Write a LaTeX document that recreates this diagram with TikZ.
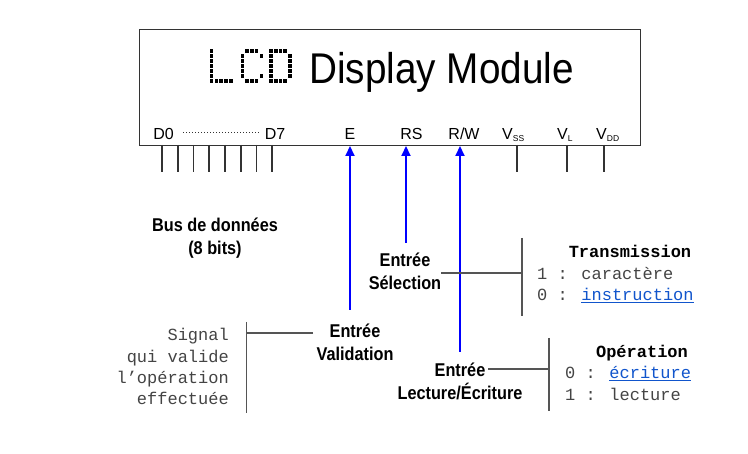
\documentclass[tikz,border=0pt]{standalone}
\usepackage{fontspec}
\setmainfont{Liberation Sans}
\newfontfamily\monof{Liberation Mono}
\usetikzlibrary{arrows.meta}
\definecolor{linkblue}{HTML}{1155CC}
\definecolor{txtgray}{HTML}{444444}
\definecolor{linegray}{HTML}{555555}
\definecolor{boxgray}{HTML}{333333}
\newcommand{\blab}[1]{\scalebox{0.88}[1]{\begin{tabular}[t]{@{}c@{}}#1\end{tabular}}}
\newcommand{\lnk}[1]{{\color{linkblue}\underline{#1}}}
\tikzset{
  pinlbl/.style={anchor=base, inner sep=0, font=\fontsize{16}{16}\selectfont},
  pinline/.style={draw=boxgray, line width=1.3pt},
  sig/.style={draw=blue, line width=2pt, -{Triangle[length=10pt,width=9pt]}},
  gline/.style={draw=linegray, line width=1.4pt},
  boldlbl/.style={anchor=base, inner sep=0, font=\fontsize{18.5}{23}\selectfont\bfseries},
  mono/.style={inner sep=0, font=\fontsize{17}{21.3}\selectfont\monof, text=txtgray},
  monohead/.style={inner sep=0, font=\fontsize{17}{21.3}\selectfont\monof\bfseries, text=black},
}
\begin{document}
\begin{tikzpicture}[x=1pt,y=-1pt]
\useasboundingbox (0,0) rectangle (748,454);
\fill[white] (0,0) rectangle (748,454);
% module box
\node[draw=boxgray, line width=1.5pt, minimum width=501pt, minimum height=116pt, anchor=north west, inner sep=0] (lcd) at (138.5,29) {};
% LCD dot matrix
\foreach \c/\r in {0/0,0/1,0/2,0/3,0/4,0/5,0/6,1/6,2/6,3/6,4/6}
  \fill[black] (211.5+\c*4.8-1.8,51+\r*5-1.8) rectangle ++(3.6,3.6);
\foreach \c/\r in {1/0,2/0,3/0,0/1,4/1,0/2,0/3,0/4,0/5,4/5,1/6,2/6,3/6}
  \fill[black] (242.5+\c*4.7-1.8,51+\r*5-1.8) rectangle ++(3.6,3.6);
\foreach \c/\r in {0/0,1/0,2/0,3/0,0/1,0/2,0/3,0/4,0/5,0/6,4/1,4/2,4/3,4/4,4/5,1/6,2/6,3/6}
  \fill[black] (271+\c*4.7-1.8,51+\r*5-1.8) rectangle ++(3.6,3.6);
\node[anchor=base west, inner sep=0, font=\fontsize{43}{43}\selectfont] (title) at (309,83.3) {\scalebox{0.9}[1]{Display Module}};
% pin labels
\node[pinlbl] (d0) at (163.5,139.3) {D0};
\node[pinlbl] (d7) at (275,139.3) {D7};
\coordinate (dotA) at (183,132);
\coordinate (dotB) at (260,132);
\draw[boxgray, line width=0.9pt, dash pattern=on 1pt off 2pt] (dotA) -- (dotB);
\node[pinlbl] (pe) at (350,139.3) {E};
\node[pinlbl] (prs) at (411.5,139.3) {RS};
\node[pinlbl] (prw) at (464,139.3) {R/W};
\node[pinlbl, anchor=base west] (pvss) at (502,139.3) {V\raisebox{-2.4pt}{\fontsize{8.5}{8.5}\selectfont SS}};
\node[pinlbl, anchor=base west] (pvl) at (557,139.3) {V\raisebox{-2.4pt}{\fontsize{8.5}{8.5}\selectfont L}};
\node[pinlbl, anchor=base west] (pvdd) at (596,139.3) {V\raisebox{-2.4pt}{\fontsize{8.5}{8.5}\selectfont DD}};
% data pins
\foreach \x [count=\i] in {162,178,193.5,209,225,241,256.5,272}
  \draw[pinline] (\x,145) coordinate (dp\i) -- ++(0,27);
\draw[pinline] (517,145) coordinate (vss) -- ++(0,27);
\draw[pinline] (567,145) coordinate (vl) -- ++(0,27);
\draw[pinline] (604,145) coordinate (vdd) -- ++(0,27);
% signal arrows
\coordinate (etip) at (350,146);
\coordinate (rstip) at (406,146);
\coordinate (rwtip) at (460,146);
\coordinate (eend) at (350,310);
\coordinate (rsend) at (406,243);
\coordinate (rwend) at (460,352);
\draw[sig] (eend) -- (etip);
\draw[sig] (rsend) -- (rstip);
\draw[sig] (rwend) -- (rwtip);
% bus label
\node[boldlbl] (bus) at (215,232) {\blab{Bus de données\\(8 bits)}};
% Selection
\node[boldlbl] (sel) at (405,266.5) {\blab{Entrée\\Sélection}};
\coordinate (selbarT) at (522,238);
\coordinate (selbarB) at (522,316);
\draw[gline] (selbarT) -- (selbarB);
\draw[gline] (sel.east |- 0,273) -- (selbarT |- 0,273);
\node[monohead, anchor=base] (trans) at (630,258) {Transmission};
\node[mono, anchor=base west] (car) at (537,279.5) {1 : caractère};
\node[mono, anchor=base west] (ins) at (537,301) {0 : \lnk{instruction}};
% Validation
\node[boldlbl] (val) at (355,338) {\blab{Entrée\\Validation}};
\coordinate (valbarT) at (246.5,322);
\coordinate (valbarB) at (246.5,413);
\draw[gline] (valbarT) -- (valbarB);
\coordinate (valL) at (313,333);
\draw[gline] (valL) -- (valbarT |- valL);
\node[mono, anchor=base east] (sig) at (229,341) {\begin{tabular}[t]{@{}r@{}}Signal\\qui valide\\l’opération\\effectuée\end{tabular}};
% Lecture/Ecriture
\node[boldlbl] (rw) at (460,376.7) {\blab{Entrée\\Lecture/Écriture}};
\coordinate (rwbarT) at (549,338);
\coordinate (rwbarB) at (549,411);
\draw[gline] (rwbarT) -- (rwbarB);
\coordinate (rwL) at (488,369);
\draw[gline] (rwL) -- (rwbarT |- rwL);
\node[monohead, anchor=base] (oper) at (642,358) {Opération};
\node[mono, anchor=base west] (ecr) at (565,379) {0 : \lnk{écriture}};
\node[mono, anchor=base west] (lec) at (565,400.5) {1 : lecture};
\end{tikzpicture}
\end{document}
